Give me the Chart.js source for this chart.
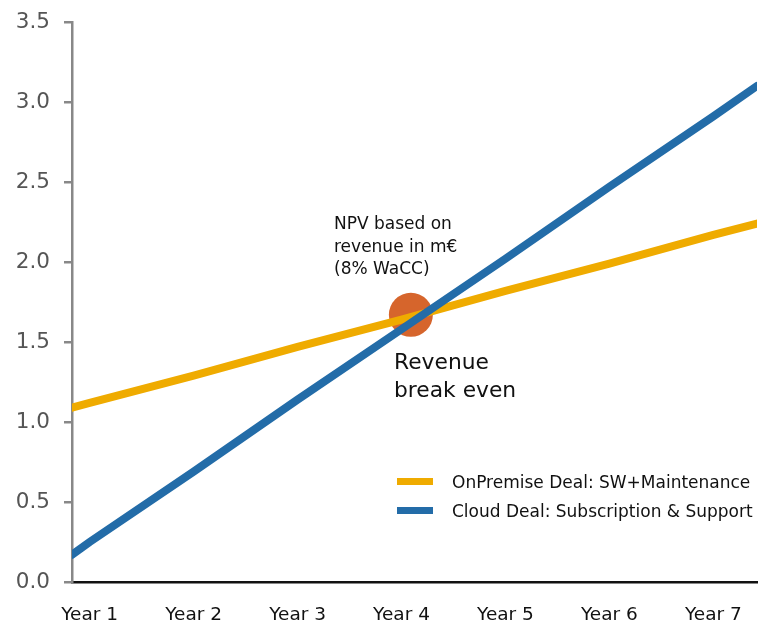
<!DOCTYPE html>
<html lang="en">
<head>
    <meta charset="UTF-8">
    <title>Revenue break even</title>
    <script src="https://cdn.jsdelivr.net/npm/chart.js"></script>
    <style>
        body {
            margin: 0;
            font-family: "DejaVu Sans", Arial, sans-serif;
            background: #fff;
        }
        #wrap {
            position: relative;
            width: 761px;
            height: 626px;
        }
        .note {
            position: absolute;
            color: #111;
        }
        #npv {
            left: 334px;
            top: 212px;
            font-size: 17px;
            line-height: 22.5px;
        }
        #breakEven {
            left: 394px;
            top: 348px;
            font-size: 21.8px;
            line-height: 28px;
        }
        #legend {
            position: absolute;
            left: 397px;
            top: 467px;
            font-size: 17px;
            color: #111;
        }
        #legend div {
            height: 29px;
            display: flex;
            align-items: center;
            white-space: nowrap;
        }
        #legend span.swatch {
            display: inline-block;
            width: 36px;
            height: 7px;
            margin-right: 19px;
        }
    </style>
</head>
<body>
<div id="wrap">
    <canvas id="chart" width="761" height="626"></canvas>
    <div class="note" id="npv">NPV based on<br>revenue in m€<br>(8% WaCC)</div>
    <div class="note" id="breakEven">Revenue<br>break even</div>
    <div id="legend"></div>
</div>

<script>
    // categories on the x axis (placed at 1..7)
    const years = ['Year 1', 'Year 2', 'Year 3', 'Year 4', 'Year 5', 'Year 6', 'Year 7'];
    // x positions: left edge of the plot, each year, right edge of the plot
    const xPos = [0.83, 1, 2, 3, 4, 5, 6, 7, 7.42];
    const onPremise = [1.09, 1.12, 1.29, 1.47, 1.64, 1.82, 1.99, 2.17, 2.24];
    const cloud = [0.17, 0.25, 0.69, 1.14, 1.58, 2.02, 2.47, 2.91, 3.10];
    const breakEven = { x: 4.09, y: 1.67 };
    const seriesNames = ['OnPremise Deal: SW+Maintenance', 'Cloud Deal: Subscription & Support'];
    const seriesColors = ['#EFAB00', '#236CA8'];
    const yTicks = [0, 0.5, 1, 1.5, 2, 2.5, 3, 3.5];

    function points(values) {
        return values.map((v, i) => ({ x: xPos[i], y: v }));
    }

    new Chart(document.getElementById('chart'), {
        type: 'line',
        data: {
            datasets: [
                {
                    label: seriesNames[0],
                    data: points(onPremise),
                    borderColor: seriesColors[0],
                    borderWidth: 8,
                    borderCapStyle: 'round',
                    pointRadius: 0,
                    order: 2
                },
                {
                    label: seriesNames[1],
                    data: points(cloud),
                    borderColor: seriesColors[1],
                    borderWidth: 8,
                    borderCapStyle: 'round',
                    pointRadius: 0,
                    order: 1
                },
                {
                    label: 'break even',
                    data: [breakEven],
                    showLine: false,
                    pointRadius: 22,
                    pointBackgroundColor: '#D6652C',
                    pointBorderWidth: 0,
                    order: 5
                }
            ]
        },
        options: {
            responsive: false,
            animation: false,
            layout: {
                autoPadding: false,
                padding: { top: 22, right: 4, left: 0, bottom: 0 }
            },
            plugins: {
                legend: { display: false },
                tooltip: { enabled: false }
            },
            scales: {
                x: {
                    type: 'linear',
                    min: xPos[0],
                    max: xPos[xPos.length - 1],
                    afterBuildTicks: function(scale) {
                        scale.ticks = years.map((y, i) => ({ value: i + 1 }));
                    },
                    afterFit: function(scale) {
                        scale.height = 44;
                        scale.paddingLeft = 0;
                        scale.paddingRight = 0;
                    },
                    grid: {
                        display: true,
                        drawOnChartArea: false,
                        drawTicks: true,
                        tickLength: 22,
                        color: 'rgba(0,0,0,0)'
                    },
                    border: { display: true, color: '#111', width: 2.5 },
                    ticks: {
                        padding: 0,
                        color: '#111',
                        font: { family: 'DejaVu Sans', size: 18.5 },
                        maxRotation: 0,
                        callback: function(value) { return years[value - 1]; }
                    }
                },
                y: {
                    min: 0,
                    max: 3.5,
                    afterBuildTicks: function(scale) {
                        scale.ticks = yTicks.map(v => ({ value: v }));
                    },
                    afterFit: function(scale) {
                        scale.width = 72;
                        scale.paddingTop = 0;
                        scale.paddingBottom = 0;
                    },
                    grid: {
                        drawOnChartArea: false,
                        drawTicks: true,
                        tickLength: 8,
                        color: '#888',
                        lineWidth: 2.5
                    },
                    border: { display: true, color: '#888', width: 2.5 },
                    ticks: {
                        padding: 14,
                        color: '#555',
                        font: { family: 'DejaVu Sans', size: 21.5 },
                        callback: function(value) { return value.toFixed(1); }
                    }
                }
            }
        }
    });

    // legend in the lower right
    const legend = document.getElementById('legend');
    seriesNames.forEach((name, i) => {
        const row = document.createElement('div');
        row.innerHTML = '<span class="swatch" style="background:' + seriesColors[i] + '"></span>' + name.replace('&', '&amp;');
        legend.appendChild(row);
    });
</script>
</body>
</html>
